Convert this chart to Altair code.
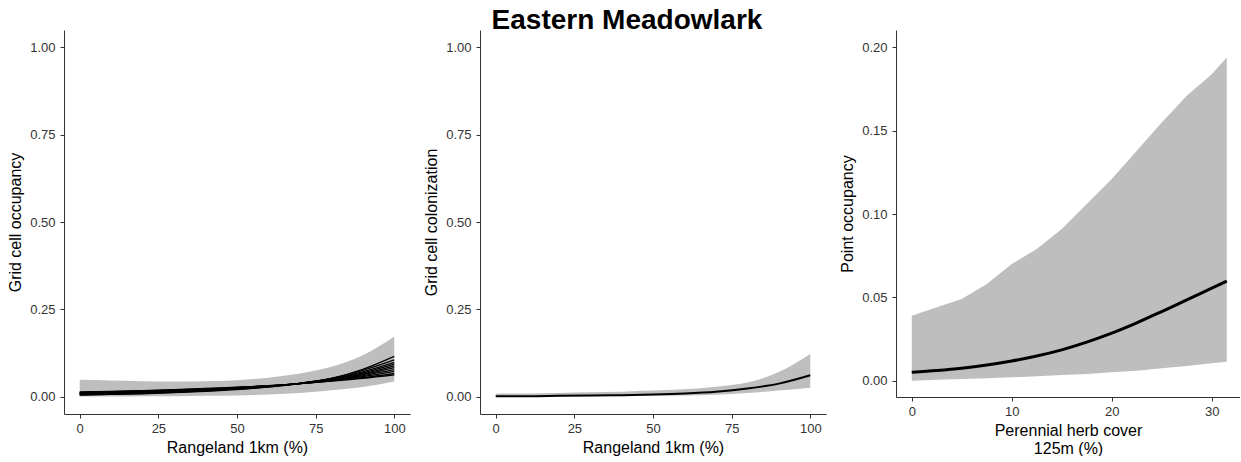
import altair as alt
import pandas as pd

# ---- Grid cell occupancy vs rangeland (one curve per year + credible band) ----
range_x = [0, 10, 20, 30, 40, 50, 60, 70, 80, 90, 100]

occ_upper = [0.048, 0.046, 0.044, 0.043, 0.044, 0.047, 0.054, 0.066, 0.085, 0.118, 0.172]
occ_lower = [0.000, 0.000, 0.001, 0.001, 0.002, 0.003, 0.006, 0.010, 0.018, 0.027, 0.043]

occ_lines = [
    [0.004, 0.006, 0.008, 0.011, 0.015, 0.020, 0.027, 0.037, 0.052, 0.078, 0.115],
    [0.005, 0.007, 0.009, 0.012, 0.016, 0.021, 0.028, 0.038, 0.052, 0.075, 0.105],
    [0.006, 0.008, 0.010, 0.013, 0.017, 0.022, 0.029, 0.038, 0.051, 0.071, 0.098],
    [0.007, 0.009, 0.011, 0.014, 0.018, 0.023, 0.029, 0.038, 0.050, 0.068, 0.093],
    [0.008, 0.010, 0.012, 0.015, 0.019, 0.023, 0.030, 0.038, 0.049, 0.065, 0.088],
    [0.009, 0.011, 0.013, 0.016, 0.019, 0.024, 0.030, 0.038, 0.048, 0.063, 0.083],
    [0.010, 0.012, 0.014, 0.017, 0.020, 0.025, 0.030, 0.037, 0.047, 0.060, 0.077],
    [0.011, 0.013, 0.015, 0.018, 0.021, 0.025, 0.031, 0.037, 0.046, 0.057, 0.072],
    [0.012, 0.014, 0.016, 0.019, 0.022, 0.026, 0.031, 0.037, 0.045, 0.054, 0.066],
    [0.013, 0.015, 0.017, 0.020, 0.023, 0.027, 0.031, 0.037, 0.044, 0.052, 0.062],
]

# ---- Grid cell colonization vs rangeland ----
col_mean = [0.001, 0.001, 0.002, 0.003, 0.004, 0.006, 0.009, 0.014, 0.023, 0.037, 0.061]
col_upper = [0.008, 0.009, 0.010, 0.012, 0.014, 0.017, 0.021, 0.028, 0.040, 0.070, 0.122]
col_lower = [0.000, 0.000, 0.000, 0.001, 0.001, 0.002, 0.003, 0.005, 0.010, 0.017, 0.025]

# ---- Point occupancy vs perennial herb cover ----
herb_x = [0, 2.5, 5, 7.5, 10, 12.5, 15, 17.5, 20, 22.5, 25, 27.5, 30, 31.5]
pt_mean = [0.005, 0.0061, 0.0075, 0.0094, 0.0118, 0.0148, 0.0185, 0.0231, 0.0285, 0.0347, 0.0415, 0.0485, 0.0555, 0.0597]
pt_upper = [0.039, 0.044, 0.049, 0.058, 0.070, 0.079, 0.091, 0.106, 0.121, 0.138, 0.155, 0.171, 0.184, 0.194]
pt_lower = [0.000, 0.0005, 0.001, 0.0015, 0.002, 0.0027, 0.0034, 0.004, 0.005, 0.006, 0.0074, 0.0088, 0.0104, 0.0114]

TITLE = "Eastern Meadowlark"
FONT = "Liberation Sans"
BAND = "#BEBEBE"

occ_band = pd.DataFrame({"x": range_x, "lo": occ_lower, "hi": occ_upper})
occ_df = pd.DataFrame(
    [{"x": x, "y": v, "run": i} for i, row in enumerate(occ_lines) for x, v in zip(range_x, row)]
)
col_df = pd.DataFrame({"x": range_x, "y": col_mean, "lo": col_lower, "hi": col_upper})
pt_df = pd.DataFrame({"x": herb_x, "y": pt_mean, "lo": pt_lower, "hi": pt_upper})


def axis_x(title, values):
    return alt.Axis(title=title, values=values, grid=False, tickSize=4,
                    labelPadding=4, titlePadding=4, labelFontSize=13,
                    titleFontSize=16, labelColor="#333333", titleColor="#000000",
                    domainColor="#333333", tickColor="#333333", labelFont=FONT,
                    titleFont=FONT, titleFontWeight="normal", format="d")


def axis_y(title, values, fmt):
    return alt.Axis(title=title, values=values, grid=False, tickSize=4,
                    labelPadding=5, titlePadding=6, labelFontSize=13,
                    titleFontSize=16, labelColor="#333333", titleColor="#000000",
                    domainColor="#333333", tickColor="#333333", labelFont=FONT,
                    titleFont=FONT, titleFontWeight="normal", format=fmt)


W = 346
H = 384

xs_range = alt.Scale(domain=[-5, 105], nice=False, zero=False)
ys_prob = alt.Scale(domain=[-0.05, 1.05], nice=False, zero=False)
yticks = [0, 0.25, 0.5, 0.75, 1.0]
xticks = [0, 25, 50, 75, 100]

# Panel 1
p1_band = alt.Chart(occ_band).mark_area(color=BAND, opacity=1, interpolate="monotone").encode(
    x=alt.X("x:Q", scale=xs_range, axis=axis_x("Rangeland 1km (%)", xticks)),
    y=alt.Y("lo:Q", scale=ys_prob, axis=axis_y("Grid cell occupancy", yticks, ".2f")),
    y2="hi:Q",
)
p1_lines = alt.Chart(occ_df).mark_line(color="black", strokeWidth=1.3, interpolate="monotone").encode(
    x="x:Q", y="y:Q", detail="run:N"
)
p1 = alt.layer(p1_band, p1_lines).properties(width=W, height=H)

# Panel 2
p2_band = alt.Chart(col_df).mark_area(color=BAND, opacity=1, interpolate="monotone").encode(
    x=alt.X("x:Q", scale=xs_range, axis=axis_x("Rangeland 1km (%)", xticks)),
    y=alt.Y("lo:Q", scale=ys_prob, axis=axis_y("Grid cell colonization", yticks, ".2f")),
    y2="hi:Q",
)
p2_line = alt.Chart(col_df).mark_line(color="black", strokeWidth=2, interpolate="monotone").encode(
    x="x:Q", y="y:Q"
)
p2_title = alt.Chart(pd.DataFrame({"t": [TITLE]})).mark_text(
    font=FONT, fontSize=28, fontWeight="bold", color="black", align="center", baseline="alphabetic"
).encode(x=alt.value(147), y=alt.value(-1), text="t:N")
p2 = alt.layer(p2_band, p2_line, p2_title).properties(width=W, height=H)

# Panel 3
xs_herb = alt.Scale(domain=[-1.575, 32.825], nice=False, zero=False)
ys_pt = alt.Scale(domain=[-0.0098, 0.2105], nice=False, zero=False)
p3_band = alt.Chart(pt_df).mark_area(color=BAND, opacity=1).encode(
    x=alt.X("x:Q", scale=xs_herb, axis=axis_x(["Perennial herb cover", "125m (%)"], [0, 10, 20, 30])),
    y=alt.Y("lo:Q", scale=ys_pt, axis=axis_y("Point occupancy", [0, 0.05, 0.1, 0.15, 0.2], ".2f")),
    y2="hi:Q",
)
p3_line = alt.Chart(pt_df).mark_line(color="black", strokeWidth=3, interpolate="monotone").encode(
    x="x:Q", y="y:Q"
)
p3 = alt.layer(p3_band, p3_line).properties(width=344, height=367)

chart = alt.hconcat(p1, p2, p3, spacing=70, bounds="flush").properties(
    background="white",
    padding={"left": 7, "top": 7, "right": 0, "bottom": 0},
).configure_view(stroke=None)

chart.save("out.html", embed_options={"renderer": "svg", "actions": False})
